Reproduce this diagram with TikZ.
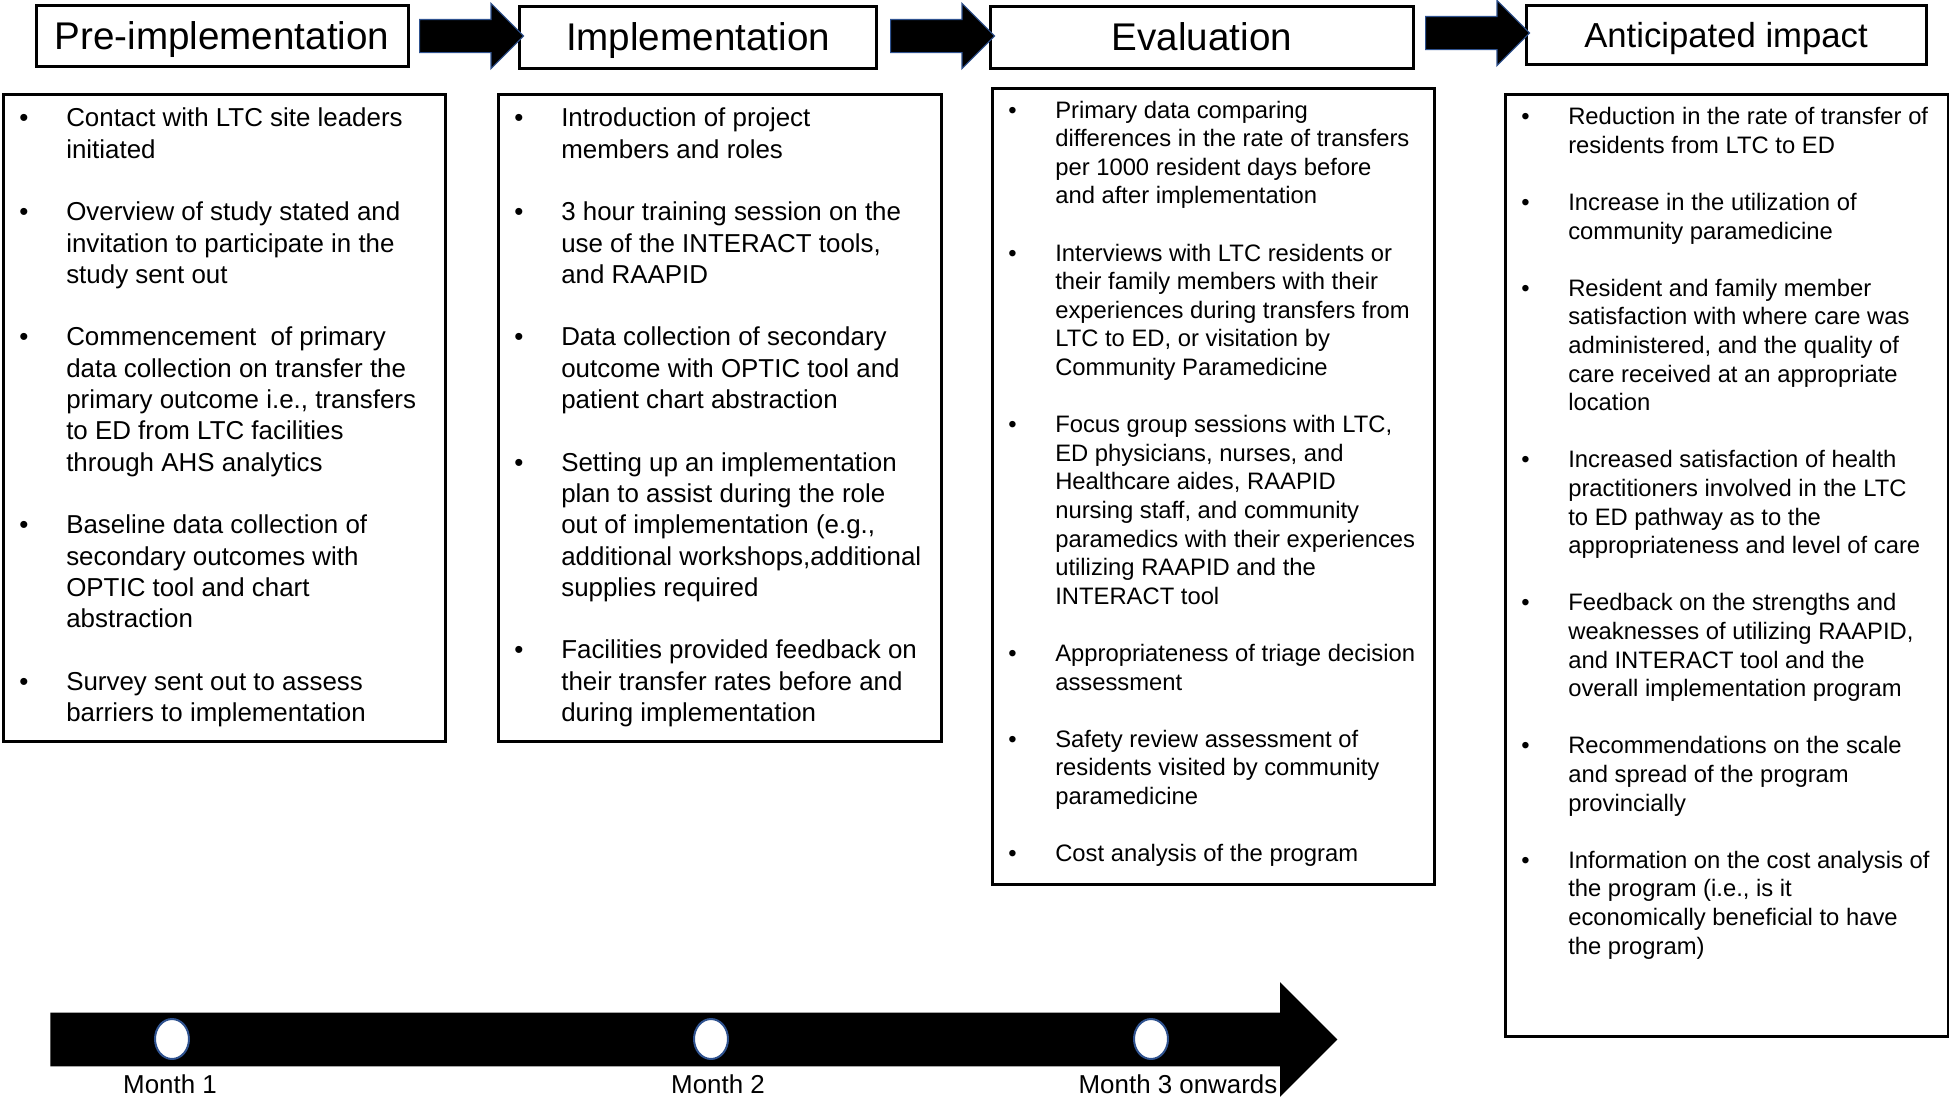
\documentclass[tikz,border=0pt]{standalone}
\usepackage{fontspec}
\setmainfont{Liberation Sans}
\usetikzlibrary{shapes.arrows,shapes.geometric}
\definecolor{edgeblue}{HTML}{2F528F}
\newcommand{\bitem}[1]{\par\noindent\hangindent=26.5pt\hangafter=0
  \llap{\makebox[26.5pt][l]{\hspace{3pt}\textbullet}}#1\par}
\newcommand{\itemgap}{\vspace{\baselineskip}}
\newcommand{\bigtext}{\fontsize{12.95pt}{15.65pt}\selectfont\rightskip=0pt plus 1fil\relax}
\newcommand{\smalltext}{\fontsize{11.9pt}{14.3pt}\selectfont\rightskip=0pt plus 1fil\relax}

\begin{document}
\begin{tikzpicture}[x=0.5pt,y=-0.5pt,
				phase/.style={
					draw,
					line width=1.5pt,
					inner sep=0pt,
					text depth=0pt,
					font=\fontsize{19.3pt}{23pt}\selectfont
				},
				panel/.style={
					draw,
					line width=1.3pt,
					anchor=north west,
					inner xsep=5pt,
					inner ysep=6.9pt
				},
				bigarrow/.style={
					single arrow,
					draw=edgeblue,
					fill=black,
					line width=0.6pt,
					inner sep=0pt,
					inner ysep=8pt,
					single arrow head extend=8pt,
					single arrow head indent=0pt,
					minimum height=52pt,
					anchor=tail
				},
				monthdot/.style={
					ellipse,
					draw=edgeblue,
					fill=white,
					line width=1pt,
					inner sep=0pt,
					minimum width=17pt,
					minimum height=20pt
				},
				every label/.style={font=\fontsize{12.95pt}{15pt}\selectfont},
				label distance=4pt
			]
			\useasboundingbox (0,0) rectangle (1949,1098);

			\node[phase,minimum width=186pt,minimum height=30.5pt] (pre) at (222,36) {Pre-implementation};
			\node[phase,minimum width=178.5pt,minimum height=31pt] (impl) at (698,37) {Implementation};
			\node[phase,minimum width=211.5pt,minimum height=31pt] (eval) at (1202,37) {Evaluation};
			\node[phase,minimum width=200pt,minimum height=29.5pt,
				font=\fontsize{17.35pt}{21pt}\selectfont] (impact) at (1726,35) {Anticipated impact};

			\node[bigarrow] (a1) at (419,36) {};
			\node[bigarrow] (a2) at (890,36) {};
			\node[bigarrow] (a3) at (1425,33) {};

			\node[panel] (pre-list) at (2,93) {\parbox[t][309.7pt][t]{211pt}{\bigtext
				\bitem{Contact with LTC site leaders\\initiated}\itemgap
				\bitem{Overview of study stated and\\invitation to participate in the\\study sent out}\itemgap
				\bitem{Commencement~ of primary\\data collection on transfer the\\primary outcome i.e., transfers\\to ED from LTC facilities\\through AHS analytics}\itemgap
				\bitem{Baseline data collection of\\secondary outcomes with\\OPTIC tool and chart\\abstraction}\itemgap
				\bitem{Survey sent out to assess\\barriers to implementation}}};

			\node[panel] (impl-list) at (497,93) {\parbox[t][309.7pt][t]{211.5pt}{\bigtext
				\bitem{Introduction of project\\members and roles}\itemgap
				\bitem{3 hour training session on the\\use of the INTERACT tools,\\and RAAPID}\itemgap
				\bitem{Data collection of secondary\\outcome with OPTIC tool and\\patient chart abstraction}\itemgap
				\bitem{Setting up an implementation\\plan to assist during the role\\out of implementation (e.g.,\\additional workshops,additional\\supplies required}\itemgap
				\bitem{Facilities provided feedback on\\their transfer rates before and\\during implementation}}};

			\node[panel,inner ysep=6.3pt] (eval-list) at (991,87) {\parbox[t][385.4pt][t]{211pt}{\smalltext
				\bitem{Primary data comparing\\differences in the rate of transfers\\per 1000 resident days before\\and after implementation}\itemgap
				\bitem{Interviews with LTC residents or\\their family members with their\\experiences during transfers from\\LTC to ED, or visitation by\\Community Paramedicine}\itemgap
				\bitem{Focus group sessions with LTC,\\ED physicians, nurses, and\\Healthcare aides, RAAPID\\nursing staff, and community\\paramedics with their experiences\\utilizing RAAPID and the\\INTERACT tool}\itemgap
				\bitem{Appropriateness of triage decision\\assessment}\itemgap
				\bitem{Safety review assessment of\\residents visited by community\\paramedicine}\itemgap
				\bitem{Cost analysis of the program}}};

			\node[panel,inner ysep=6.6pt] (impact-list) at (1504,93) {\parbox[t][457.8pt][t]{211.5pt}{\smalltext
				\bitem{Reduction in the rate of transfer of\\residents from LTC to ED}\itemgap
				\bitem{Increase in the utilization of\\community paramedicine}\itemgap
				\bitem{Resident and family member\\satisfaction with where care was\\administered, and the quality of\\care received at an appropriate\\location}\itemgap
				\bitem{Increased satisfaction of health\\practitioners involved in the LTC\\to ED pathway as to the\\appropriateness and level of care}\itemgap
				\bitem{Feedback on the strengths and\\weaknesses of utilizing RAAPID,\\and INTERACT tool and the\\overall implementation program}\itemgap
				\bitem{Recommendations on the scale\\and spread of the program\\provincially}\itemgap
				\bitem{Information on the cost analysis of\\the program (i.e., is it\\economically beneficial to have\\the program)}}};

			\node[single arrow,fill=black,inner sep=0pt,inner ysep=13.25pt,
				single arrow head extend=15.25pt,single arrow head indent=0pt,
				minimum height=643.5pt,anchor=tail] (months) at (50,1039.5) {};

			\node[monthdot,label={[xshift=-1pt]below:Month 1}] (m1) at (172,1039) {};
			\node[monthdot,label={[xshift=3.5pt]below:Month 2}] (m2) at (711,1039) {};
			\node[monthdot,label={[xshift=13.5pt]below:Month 3 onwards}] (m3) at (1151,1039) {};
		\end{tikzpicture}
\end{document}
